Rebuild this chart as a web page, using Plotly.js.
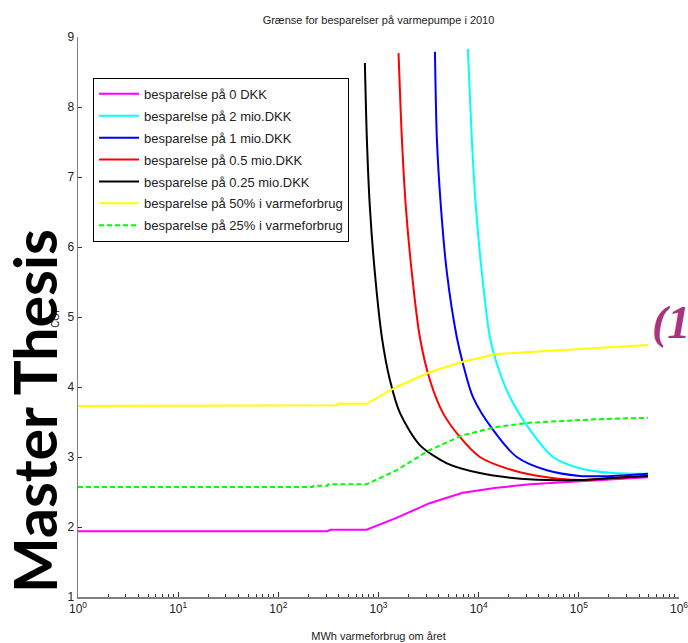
<!DOCTYPE html>
<html>
<head>
<meta charset="utf-8">
<script src="https://cdn.plot.ly/plotly-3.0.1.min.js"></script>
<style>html,body{margin:0;padding:0;background:#fff;}#chart{width:688px;height:643px;}</style>
</head>
<body>
<div id="chart"></div>
<script>
// Data (x = MWh varmeforbrug om året, y = COP)
const names = [
  "besparelse på 0 DKK",
  "besparelse på 2 mio.DKK",
  "besparelse på 1 mio.DKK",
  "besparelse på 0.5 mio.DKK",
  "besparelse på 0.25 mio.DKK",
  "besparelse på 50% i varmeforbrug",
  "besparelse på 25% i varmeforbrug"
];

const x0dkk = [1, 310, 330, 760, 1510, 3240, 6920, 15100, 32400, 69200, 151000, 490000];
const y0dkk = [1.94, 1.94, 1.96, 1.96, 2.13, 2.34, 2.49, 2.56, 2.61, 2.64, 2.67, 2.71];

const x2mio = [7800, 8550, 9380, 10770, 12940, 15140, 20460, 32430, 55080, 102300, 218800, 490000];
const y2mio = [8.83, 7.53, 6.57, 5.63, 4.71, 4.34, 3.86, 3.39, 3.00, 2.84, 2.77, 2.76];

const x1mio = [3660, 3830, 4200, 4820, 6050, 6950, 8750, 13870, 24040, 47970, 102300, 218800, 490000];
const y1mio = [8.79, 7.53, 6.57, 5.63, 4.71, 4.34, 3.86, 3.39, 3.00, 2.81, 2.73, 2.73, 2.76];

const x05mio = [1585, 1714, 1875, 2153, 2588, 3258, 4395, 6457, 10280, 21930, 47970, 102300, 218800, 490000];
const y05mio = [8.77, 7.53, 6.57, 5.63, 4.71, 4.10, 3.63, 3.29, 3.00, 2.81, 2.71, 2.67, 2.70, 2.73];

const x025mio = [731, 766, 820, 920, 1081, 1300, 1637, 2588, 4819, 10280, 21930, 47970, 102300, 218800, 490000];
const y025mio = [8.63, 7.53, 6.57, 5.63, 4.71, 4.10, 3.63, 3.17, 2.91, 2.77, 2.70, 2.67, 2.67, 2.70, 2.73];

const x50pct = [1, 240, 245, 390, 395, 760, 1510, 3240, 6920, 15100, 32400, 69200, 151000, 490000];
const y50pct = [3.73, 3.73, 3.74, 3.74, 3.76, 3.76, 4.00, 4.21, 4.36, 4.47, 4.50, 4.53, 4.56, 4.60];

const x25pct = [1, 220, 225, 310, 315, 760, 1510, 3240, 6920, 15100, 32400, 69200, 151000, 490000];
const y25pct = [2.57, 2.57, 2.59, 2.59, 2.61, 2.61, 2.81, 3.10, 3.31, 3.43, 3.49, 3.51, 3.54, 3.56];

const xTickVals = [1, 10, 100, 1000, 10000, 100000, 1000000];
const xTickText = ["10<sup>0</sup>", "10<sup>1</sup>", "10<sup>2</sup>", "10<sup>3</sup>", "10<sup>4</sup>", "10<sup>5</sup>", "10<sup>6</sup>"];
const xMinorDigits = [2, 3, 4, 5, 6, 7, 8, 9];
const yTickVals = [1, 2, 3, 4, 5, 6, 7, 8, 9];

const colors = ["#ff00ff", "#00ffff", "#0000ff", "#ff0000", "#000000", "#ffff00", "#00ff00"];
const xs = [x0dkk, x2mio, x1mio, x05mio, x025mio, x50pct, x25pct];
const ys = [y0dkk, y2mio, y1mio, y05mio, y025mio, y50pct, y25pct];

const minorVals = [];
xTickVals.slice(0, -1).forEach(d => xMinorDigits.forEach(m => minorVals.push(d * m)));

const traces = names.map((n, i) => ({
  type: "scatter",
  mode: "lines",
  name: n,
  legendgroup: "g" + i,
  x: xs[i],
  y: ys[i],
  line: {
    color: colors[i],
    width: 2,
    dash: i === 6 ? "5px,3px" : "solid",
    shape: (i >= 1 && i <= 4) ? "spline" : "linear",
    smoothing: 0.8
  }
}));

const FONT = "Liberation Sans, Arial, sans-serif";
const layout = {
  width: 688,
  height: 643,
  margin: {l: 78, r: 9, t: 37, b: 46},
  paper_bgcolor: "#ffffff",
  plot_bgcolor: "#ffffff",
  font: {family: FONT, size: 12, color: "#222"},
  showlegend: true,
  title: {
    text: "Grænse for besparelser på varmepumpe i 2010",
    font: {family: FONT, size: 11, color: "#222"},
    x: 0.5, xref: "paper", xanchor: "center",
    y: 1 - 20 / 643, yref: "container", yanchor: "middle"
  },
  xaxis: {
    type: "log",
    range: [0, 6],
    tickmode: "array",
    tickvals: xTickVals,
    ticktext: xTickText,
    ticklabeloverflow: "allow",
    ticks: "inside",
    ticklen: 5,
    tickcolor: "#333",
    tickfont: {family: FONT, size: 12, color: "#222"},
    showline: true,
    linecolor: "#808080",
    linewidth: 1.5,
    mirror: false,
    showgrid: false,
    zeroline: false,
    minor: {tickmode: "array", tickvals: minorVals, ticks: "inside", ticklen: 3, tickcolor: "#333", showgrid: false},
    title: {text: "MWh varmeforbrug om året", font: {family: FONT, size: 11, color: "#222"}, standoff: 17}
  },
  yaxis: {
    range: [1, 9],
    tickvals: yTickVals,
    ticks: "inside",
    ticklen: 4,
    tickcolor: "#333",
    tickfont: {family: FONT, size: 12, color: "#222"},
    showline: true,
    linecolor: "#808080",
    linewidth: 1.5,
    mirror: false,
    showgrid: false,
    zeroline: false,
    title: {text: "COP", font: {family: FONT, size: 10, color: "#222"}, standoff: 6}
  },
  legend: {
    x: 0.025, y: 0.927, xanchor: "left", yanchor: "top",
    xref: "paper", yref: "paper",
    bgcolor: "#ffffff",
    bordercolor: "#000",
    borderwidth: 1,
    font: {family: FONT, size: 13, color: "#222"},
    itemwidth: 40,
    tracegroupgap: 2,
    traceorder: "grouped"
  },
  annotations: [
    {
      text: "<b>Master Thesis</b>",
      xref: "paper", yref: "paper",
      x: (34 - 78) / 601, y: (597 - 411) / 560,
      xanchor: "center", yanchor: "middle",
      textangle: -90,
      showarrow: false,
      font: {family: "Lato, Open Sans, sans-serif", size: 59, color: "#000"}
    },
    {
      text: "<i><b>(1</b></i>",
      xref: "paper", yref: "paper",
      x: (650 - 78) / 601, y: (597 - 322) / 560,
      xanchor: "left", yanchor: "middle",
      showarrow: false,
      font: {family: "Liberation Serif, DejaVu Serif, serif", size: 46, color: "#a8337f"}
    }
  ]
};

Plotly.newPlot("chart", traces, layout, {displayModeBar: false, staticPlot: true});
</script>
</body>
</html>
